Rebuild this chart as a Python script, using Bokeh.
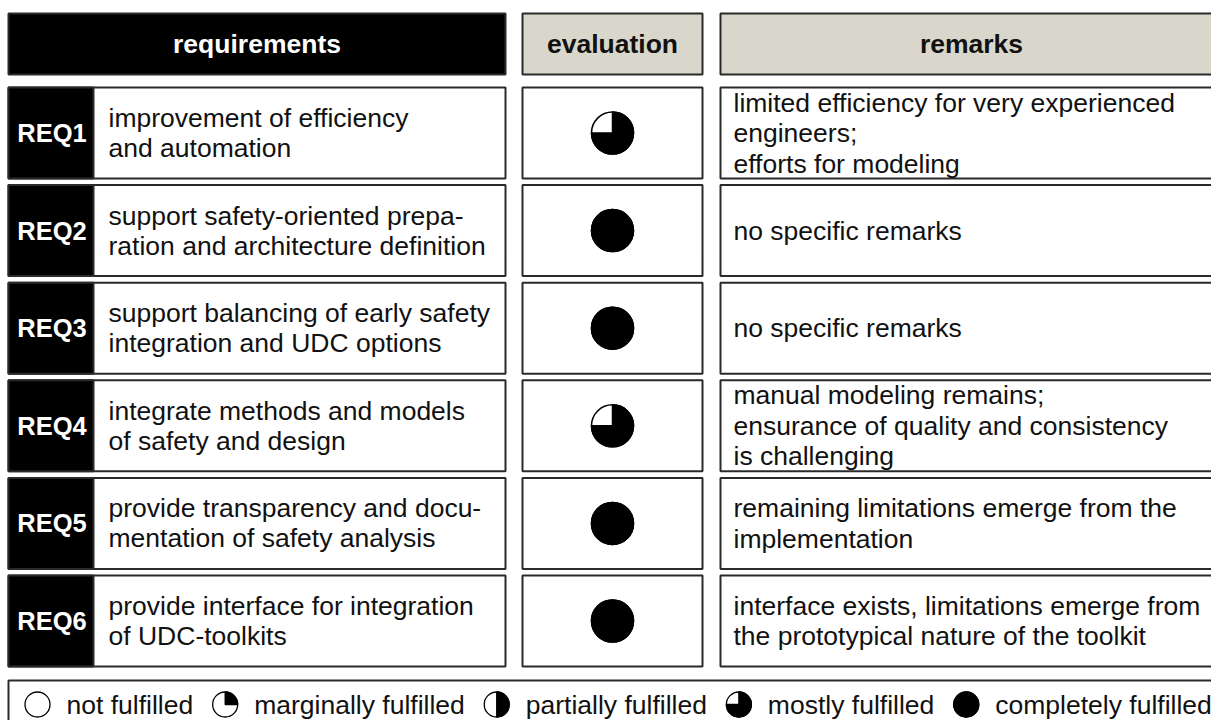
from bokeh.plotting import figure
from bokeh.models import Range1d
from bokeh.core.properties import value
from bokeh.embed import file_html
from bokeh.resources import INLINE
import math

# ---------------- data ----------------
headers = ["requirements", "evaluation", "remarks"]
req_ids = ["REQ1", "REQ2", "REQ3", "REQ4", "REQ5", "REQ6"]
req_text = [
    ["improvement of efficiency", "and automation"],
    ["support safety-oriented prepa-", "ration and architecture definition"],
    ["support balancing of early safety", "integration and UDC options"],
    ["integrate methods and models", "of safety and design"],
    ["provide transparency and docu-", "mentation of safety analysis"],
    ["provide interface for integration", "of UDC-toolkits"],
]
eval_level = [3, 4, 4, 3, 4, 4]   # 0 = not ... 4 = completely fulfilled
remarks = [
    ["limited efficiency for very experienced", "engineers;", "efforts for modeling"],
    ["no specific remarks"],
    ["no specific remarks"],
    ["manual modeling remains;", "ensurance of quality and consistency", "is challenging"],
    ["remaining limitations emerge from the", "implementation"],
    ["interface exists, limitations emerge from", "the prototypical nature of the toolkit"],
]
legend_labels = ["not fulfilled", "marginally fulfilled", "partially fulfilled",
                 "mostly fulfilled", "completely fulfilled"]
legend_levels = [0, 1, 2, 3, 4]

# ---------------- layout ----------------
W, H = 1211, 720
FONT = value("Liberation Sans")
BORDER = "#2a2a2a"
GRAY = "#d9d7cc"
TXT = "#111111"
FS = 26.5


def X(px):
    return px


def Y(py):
    return H - py


p = figure(width=W, height=H, output_backend="svg", toolbar_location=None,
           x_range=Range1d(0, W), y_range=Range1d(0, H), min_border=0)
p.axis.visible = False
p.grid.visible = False
p.outline_line_color = None
p.background_fill_color = "white"
p.border_fill_color = "white"

# column geometry (page px)
req_l, lab_r, req_r = 8, 93, 505
ev_l, ev_r = 522, 702
rm_l, rm_r = 720, 1222
hdr_t, hdr_b = 13, 74
row_t0, row_pitch, row_h = 87, 97.6, 91

# headers
p.quad(left=[X(req_l)], right=[X(req_r)], top=[Y(hdr_t)], bottom=[Y(hdr_b)],
       fill_color="black", line_color=BORDER, line_width=2)
p.quad(left=[X(ev_l), X(rm_l)], right=[X(ev_r), X(rm_r)],
       top=[Y(hdr_t)] * 2, bottom=[Y(hdr_b)] * 2,
       fill_color=GRAY, line_color=BORDER, line_width=2)
hdr_cx = [X((req_l + req_r) / 2), X((ev_l + ev_r) / 2), X((rm_l + rm_r) / 2)]
p.text(x=hdr_cx, y=[Y((hdr_t + hdr_b) / 2)] * 3, text=headers,
       text_font=FONT, text_font_size=f"{FS}px", text_font_style="bold",
       text_align="center", text_baseline="middle",
       text_color=["white", TXT, TXT])

# rows
n = len(req_ids)
tops = [row_t0 + i * row_pitch for i in range(n)]
bots = [t + row_h for t in tops]
mids = [(t + b) / 2 for t, b in zip(tops, bots)]

p.quad(left=[X(req_l)] * n, right=[X(req_r)] * n,
       top=[Y(t) for t in tops], bottom=[Y(b) for b in bots],
       fill_color="white", line_color=BORDER, line_width=2)
p.quad(left=[X(req_l)] * n, right=[X(lab_r)] * n,
       top=[Y(t) for t in tops], bottom=[Y(b) for b in bots],
       fill_color="black", line_color=BORDER, line_width=2)
p.quad(left=[X(ev_l)] * n, right=[X(ev_r)] * n,
       top=[Y(t) for t in tops], bottom=[Y(b) for b in bots],
       fill_color="white", line_color=BORDER, line_width=2)
p.quad(left=[X(rm_l)] * n, right=[X(rm_r)] * n,
       top=[Y(t) for t in tops], bottom=[Y(b) for b in bots],
       fill_color="white", line_color=BORDER, line_width=2)

p.text(x=[X((req_l + lab_r) / 2 + 1)] * n, y=[Y(m) for m in mids], text=req_ids,
       text_font=FONT, text_font_size="25.5px", text_font_style="bold",
       text_align="center", text_baseline="middle", text_color="white")


# multi-line texts
def lines_xy(blocks, x0, spacing):
    xs, ys, ts = [], [], []
    for m, block in zip(mids, blocks):
        k = len(block)
        for j, line in enumerate(block):
            xs.append(X(x0))
            ys.append(Y(m + (j - (k - 1) / 2) * spacing))
            ts.append(line)
    return xs, ys, ts

xs, ys, ts = lines_xy(req_text, 108, 30)
p.text(x=xs, y=ys, text=ts, text_font=FONT, text_font_size=f"{FS}px",
       text_align="left", text_baseline="middle", text_color=TXT)
xs, ys, ts = lines_xy(remarks, 733, 30.5)
p.text(x=xs, y=ys, text=ts, text_font=FONT, text_font_size=f"{FS}px",
       text_align="left", text_baseline="middle", text_color=TXT)


# harvey-ball markers
def harvey(cx, cy, levels, r, lw):
    p.circle(x=cx, y=cy, radius=r, fill_color="white", line_color="black", line_width=lw)
    part = [(x, y, l) for x, y, l in zip(cx, cy, levels) if 0 < l < 4]
    if part:
        p.wedge(x=[a[0] for a in part], y=[a[1] for a in part], radius=r,
                start_angle=[math.pi / 2] * len(part),
                end_angle=[math.pi / 2 - a[2] / 4 * 2 * math.pi for a in part],
                direction="clock", fill_color="black", line_color="black", line_width=lw)
    full = [(x, y) for x, y, l in zip(cx, cy, levels) if l >= 4]
    if full:
        p.circle(x=[a[0] for a in full], y=[a[1] for a in full], radius=r,
                 fill_color="black", line_color="black", line_width=lw)

harvey([X((ev_l + ev_r) / 2)] * n, [Y(m) for m in mids], eval_level, 21, 1.5)

# legend
leg_t, leg_b = 680, 740
p.quad(left=[X(req_l)], right=[X(rm_r)], top=[Y(leg_t)], bottom=[Y(leg_b)],
       fill_color="white", line_color=BORDER, line_width=2)

AW = {' ': 278, 'a': 556, 'c': 500, 'd': 556, 'e': 556, 'f': 278, 'g': 556, 'i': 222,
      'l': 222, 'm': 833, 'n': 556, 'o': 556, 'p': 556, 'r': 333, 's': 500, 't': 278,
      'u': 556, 'y': 500}


def tw(s, size=FS):
    return sum(AW.get(c, 556) for c in s) / 1000 * size

leg_cx, leg_tx = [], []
cur = 37
for lab in legend_labels:
    leg_cx.append(cur)
    leg_tx.append(cur + 29)
    cur = cur + 29 + tw(lab) + 32
leg_y = 704
harvey([X(c) for c in leg_cx], [Y(leg_y)] * len(leg_cx), legend_levels, 12.5, 1.3)
p.text(x=[X(t) for t in leg_tx], y=[Y(leg_y)] * len(leg_tx), text=legend_labels,
       text_font=FONT, text_font_size=f"{FS}px", text_align="left",
       text_baseline="middle", text_color=TXT)

open("out.html", "w").write(file_html(p, INLINE))
